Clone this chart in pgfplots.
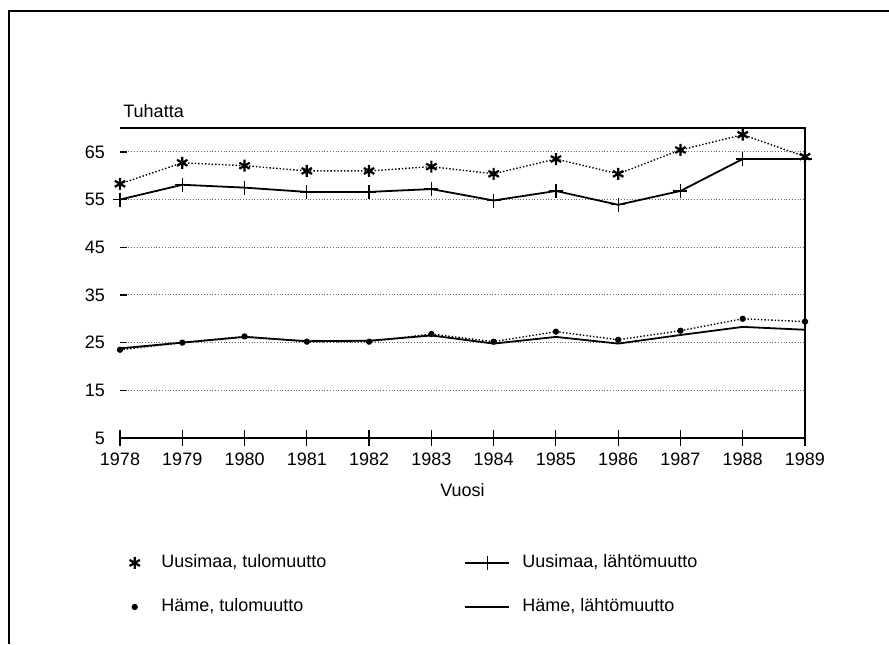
\documentclass[border=0pt]{standalone}
\usepackage{fontspec}
\setmainfont{Liberation Sans}
\usepackage{pgfplots}
\pgfplotsset{compat=1.18}
\pgfplotsset{
    markleg/.style={legend image code/.code={\path (0pt,0pt) (22pt,0pt);
        \draw[##1] plot[only marks] coordinates {(11pt,0pt)};}},
    lineleg/.style={legend image code/.code={\path (0pt,0pt) (26pt,0pt);
        \draw[mark repeat=2, mark phase=2, ##1]
        plot coordinates {(0pt,0pt) (11pt,0pt) (22pt,0pt)};}},
}

% values in thousands
\begin{document}
\begin{tikzpicture}
\path[use as bounding box] (0pt,0pt) rectangle (444.5pt,322pt);
% outer frame (only top and left edges survive in the scan)
\draw[line width=0.6pt] (4.5pt,0pt) -- (4.5pt,316.5pt) -- (444.5pt,316.5pt);
\begin{axis}[
    at={(60pt,103pt)}, anchor=south west,
    scale only axis, width=342.5pt, height=155pt,
    xmin=1978, xmax=1989, ymin=5, ymax=70,
    clip=false,
    xtick={1978,...,1989},
    ytick={5,15,...,65},
    x tick label style={/pgf/number format/1000 sep={}},
    /pgf/number format/assume math mode=true,
    font=\fontsize{9}{11}\selectfont,
    axis line style={draw=none},
    tick align=center, major tick length=8pt,
    xtick style={black, line width=0.6pt},
    ytick style={draw=none},
    xtick pos=bottom, ytick pos=left,
    ymajorgrids,
    grid style={densely dotted, black!60, line width=0.5pt},
    xlabel={Vuosi},
    xlabel style={yshift=-2pt},
    legend columns=2,
    legend cell align=left,
    legend style={at={(-0.021,-0.35)}, anchor=north west, draw=none, fill=none,
        font=\fontsize{9}{11}\selectfont, row sep=10pt,
        /tikz/every even column/.append style={column sep=67pt}},
]
% frame lines of the plot area
\draw[line width=0.8pt] (axis cs:1978,5) -- (axis cs:1989,5);
\draw[line width=0.8pt] (axis cs:1978,70) -- (axis cs:1989,70) -- (axis cs:1989,5);
% short inward y tick dashes
\draw[line width=0.7pt] (axis cs:1978,5) -- ++(3.5pt,0pt);
\draw[line width=0.7pt] (axis cs:1978,15) -- ++(3.5pt,0pt);
\draw[line width=0.7pt] (axis cs:1978,25) -- ++(3.5pt,0pt);
\draw[line width=0.7pt] (axis cs:1978,35) -- ++(3.5pt,0pt);
\draw[line width=0.7pt] (axis cs:1978,45) -- ++(3.5pt,0pt);
\draw[line width=0.7pt] (axis cs:1978,55) -- ++(3.5pt,0pt);
\draw[line width=0.7pt] (axis cs:1978,65) -- ++(3.5pt,0pt);

% Uusimaa, tulomuutto
\addplot[black, densely dotted, line width=0.7pt, mark=asterisk, mark size=3pt,
    mark options={solid, line width=1.1pt}, markleg]
    coordinates {(1978,58.3) (1979,62.7) (1980,62.1) (1981,61.0) (1982,61.0)
    (1983,61.9) (1984,60.4) (1985,63.5) (1986,60.4) (1987,65.4) (1988,68.6) (1989,64.0)};
\addlegendentry{Uusimaa, tulomuutto}

% Uusimaa, lähtömuutto
\addplot[black, line width=0.9pt, mark=+, mark size=3.5pt,
    mark options={line width=0.6pt}, lineleg]
    coordinates {(1978,55.0) (1979,58.1) (1980,57.5) (1981,56.6) (1982,56.6)
    (1983,57.2) (1984,54.8) (1985,56.8) (1986,53.9) (1987,56.8) (1988,63.5) (1989,63.5)};
\addlegendentry{Uusimaa, lähtömuutto}

% Häme, tulomuutto
\addplot[black, densely dotted, line width=0.7pt, mark=*, mark size=1.2pt,
    mark options={solid}, markleg]
    coordinates {(1978,23.5) (1979,25.0) (1980,26.3) (1981,25.2) (1982,25.2)
    (1983,26.8) (1984,25.2) (1985,27.3) (1986,25.6) (1987,27.5) (1988,30.0) (1989,29.4)};
\addlegendentry{Häme, tulomuutto}

% Häme, lähtömuutto
\addplot[black, line width=0.9pt, no markers, lineleg]
    coordinates {(1978,23.8) (1979,25.0) (1980,26.2) (1981,25.3) (1982,25.4)
    (1983,26.5) (1984,24.8) (1985,26.2) (1986,24.8) (1987,26.6) (1988,28.3) (1989,27.7)};
\addlegendentry{Häme, lähtömuutto}

\node[anchor=south west, inner sep=0pt, font=\fontsize{9}{11}\selectfont]
    at (axis cs:1978,70) [yshift=5pt, xshift=1.5pt] {Tuhatta};
\end{axis}
\end{tikzpicture}
\end{document}
